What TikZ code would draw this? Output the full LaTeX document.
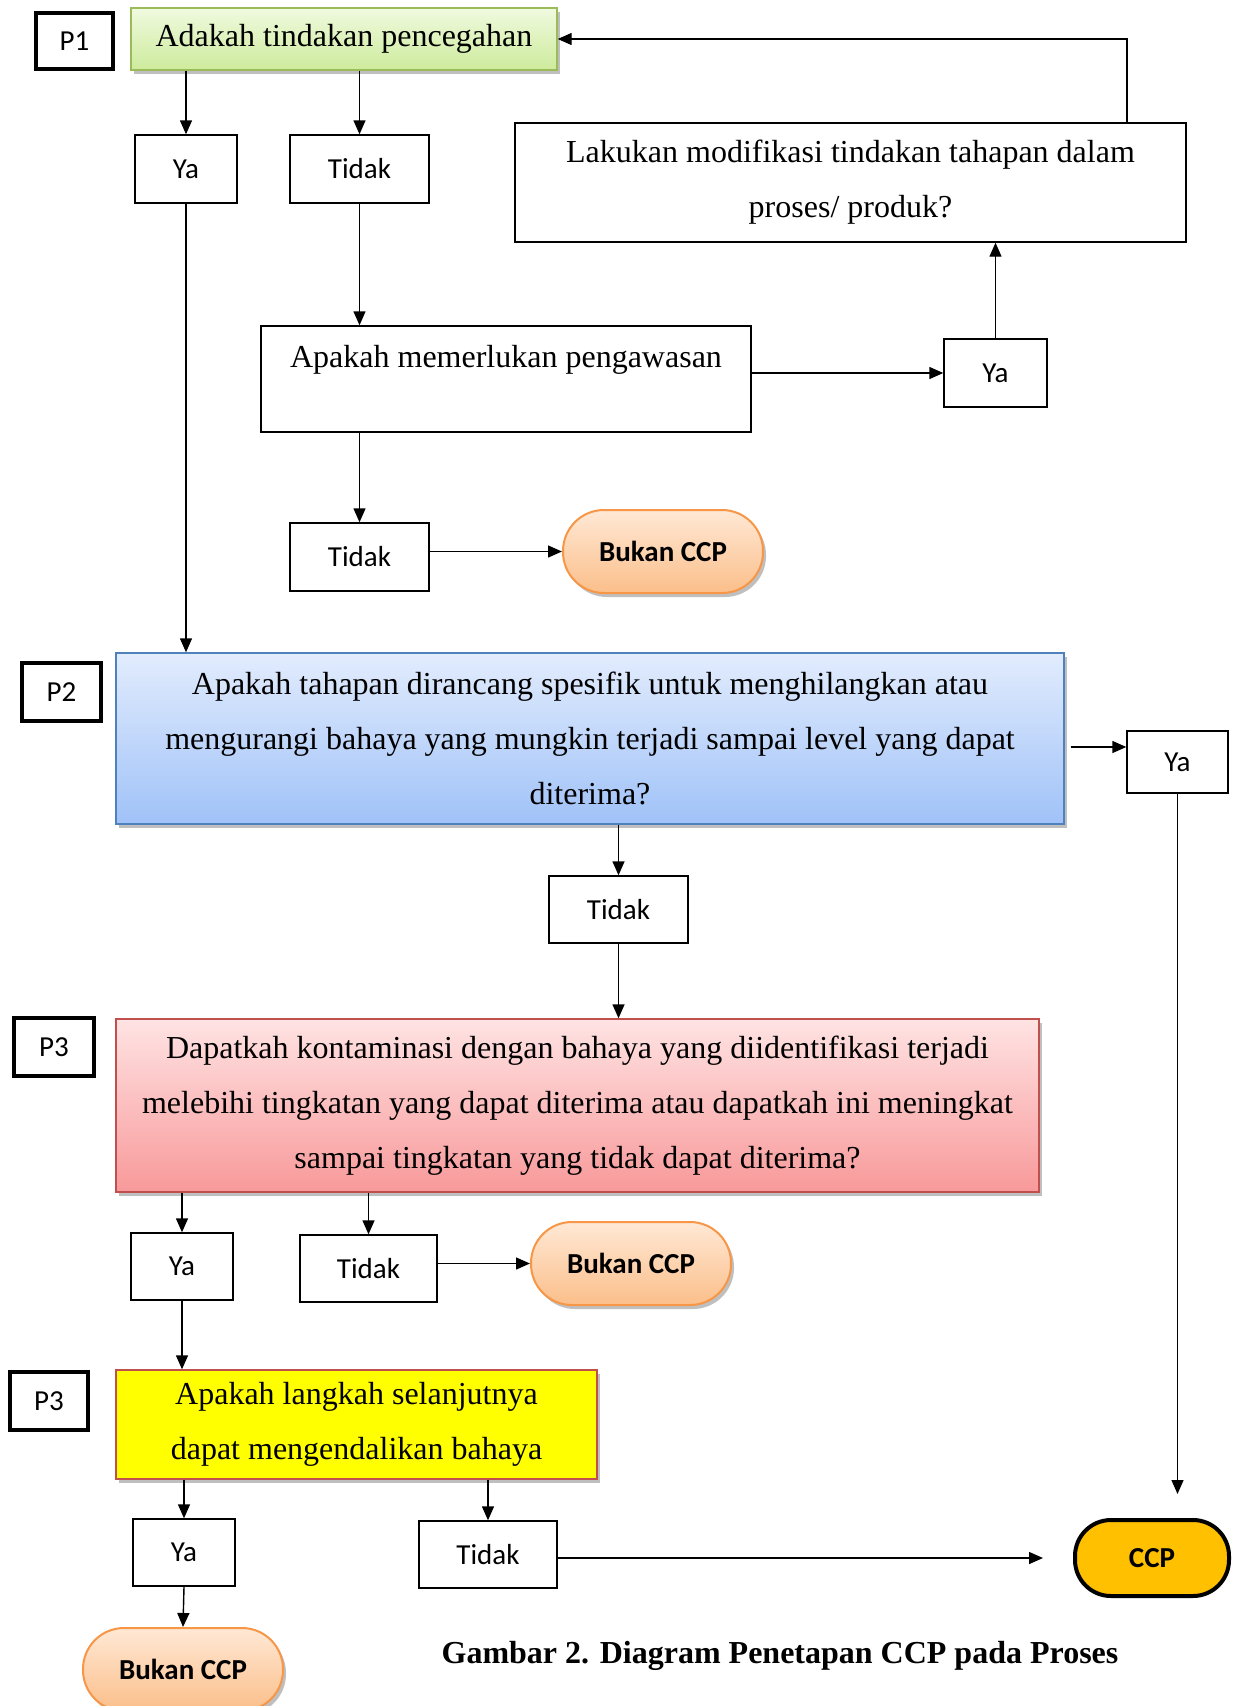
\documentclass[tikz,border=0pt]{standalone}
\usepackage{fontspec}
\setmainfont{Liberation Serif}
\setsansfont{Carlito}
\usetikzlibrary{arrows.meta,shadows,calc}
\definecolor{gborder}{HTML}{9BBB59}
\definecolor{gtop}{HTML}{F0FADF}
\definecolor{gbot}{HTML}{CDEB9C}
\definecolor{bborder}{HTML}{4F81BD}
\definecolor{btop}{HTML}{E2ECFD}
\definecolor{bbot}{HTML}{A0C2F8}
\definecolor{rborder}{HTML}{C0504D}
\definecolor{rtop}{HTML}{FFE3E3}
\definecolor{rbot}{HTML}{F8999A}
\definecolor{otop}{HTML}{FFE8D5}
\definecolor{obot}{HTML}{FBBF8A}
\definecolor{oborder}{HTML}{F79646}
\definecolor{ccpfill}{HTML}{FFC000}
\definecolor{pureyellow}{HTML}{FFFF00}
\begin{document}
\begin{tikzpicture}[x=1pt,y=-1pt,
  line width=1.4pt,
  arr/.style={-{Triangle[length=14pt,width=12pt]}},
  sertext/.style={font=\fontsize{32}{55}\selectfont, align=center},
  sanstext/.style={font=\sffamily\fontsize{29}{31}\selectfont},
  shad/.style={drop shadow={shadow xshift=3pt,shadow yshift=-4pt,opacity=0.25,fill=black}},
  optbox/.style={draw, rectangle, sanstext, inner sep=0pt},
  pbox/.style={draw, line width=4.5pt, rectangle, sanstext, inner sep=0pt},
  qbox/.style={draw, rectangle, sertext, inner sep=0pt},
  term/.style={draw=oborder, line width=2pt, top color=otop, bottom color=obot, rounded corners=41pt, shad,
     font=\sffamily\bfseries\fontsize{29}{31}\selectfont, inner sep=0pt, minimum width=200pt, minimum height=83pt}
]
\useasboundingbox (0,0) rectangle (1237,1706);

% P1 row
\node[pbox, minimum width=77pt, minimum height=56pt] (p1) at (74.5,41) {P1};
\node[qbox, draw=gborder, top color=gtop, bottom color=gbot, shad, minimum width=426pt, minimum height=62pt] (green) at (344,39) {Adakah tindakan pencegahan};
\node[optbox, minimum width=102pt, minimum height=68pt] (ya1) at (186,169) {Ya};
\node[optbox, minimum width=139pt, minimum height=68pt] (tidak1) at (359.5,169) {Tidak};
\node[qbox, minimum width=671pt, minimum height=119pt] (lakukan) at (850.5,182.5) {Lakukan modifikasi tindakan tahapan dalam\\proses/ produk?};
\node[draw, rectangle, inner sep=0pt, minimum width=490pt, minimum height=106pt,
      label={[sertext, anchor=north, inner sep=0pt, yshift=-19pt]north:Apakah memerlukan pengawasan}] (apakah) at (506,379) {};
\node[optbox, minimum width=103pt, minimum height=68pt] (ya2) at (995.5,373) {Ya};
\node[optbox, minimum width=139pt, minimum height=68pt] (tidak2) at (359.5,557) {Tidak};
\node[term] (bukan1) at (663,551.5) {Bukan CCP};

% P2 row
\node[pbox, minimum width=79pt, minimum height=58pt] (p2) at (61.5,692) {P2};
\node[qbox, draw=bborder, top color=btop, bottom color=bbot, shad, minimum width=948pt, minimum height=171pt] (blue) at (590,738.5) {Apakah tahapan dirancang spesifik untuk menghilangkan atau\\mengurangi bahaya yang mungkin terjadi sampai level yang dapat\\diterima?};
\node[optbox, minimum width=101pt, minimum height=62pt] (ya3) at (1177.5,762) {Ya};
\node[optbox, minimum width=139pt, minimum height=67pt] (tidak3) at (618.5,909.5) {Tidak};

% P3 row
\node[pbox, minimum width=80pt, minimum height=58pt] (p3a) at (54,1047) {P3};
\node[qbox, draw=rborder, top color=rtop, bottom color=rbot, shad, minimum width=923pt, minimum height=173pt] (red) at (577.5,1105.5) {Dapatkah kontaminasi dengan bahaya yang diidentifikasi terjadi\\melebihi tingkatan yang dapat diterima atau dapatkah ini meningkat\\sampai tingkatan yang tidak dapat diterima?};
\node[optbox, minimum width=102pt, minimum height=67pt] (ya4) at (182,1266.5) {Ya};
\node[optbox, minimum width=137pt, minimum height=67pt] (tidak4) at (368.5,1268.5) {Tidak};
\node[term] (bukan2) at (631,1263.5) {Bukan CCP};

% P3 second
\node[pbox, minimum width=78pt, minimum height=58pt] (p3b) at (49,1401) {P3};
\node[qbox, draw=rborder, fill=pureyellow, shad, minimum width=481pt, minimum height=109pt] (yellowbox) at (356.5,1424.5) {Apakah langkah selanjutnya\\dapat mengendalikan bahaya};
\node[optbox, minimum width=102pt, minimum height=67pt] (ya5) at (184,1552.5) {Ya};
\node[optbox, minimum width=138pt, minimum height=67pt] (tidak5) at (488,1554.5) {Tidak};
\node[draw, line width=4pt, fill=ccpfill, rounded corners=36pt, minimum width=154pt, minimum height=76pt, inner sep=0pt,
      font=\sffamily\bfseries\fontsize{29}{31}\selectfont] (ccp) at (1152,1558) {CCP};
\node[term] (bukan3) at (183,1669.5) {Bukan CCP};

\node[font=\bfseries\fontsize{32}{36}\selectfont] (caption) at (780,1656) {Gambar 2. Diagram Penetapan CCP pada Proses};

% connectors
\draw[arr] (green.south -| ya1.north) -- (ya1.north);
\draw[arr] (green.south -| tidak1.north) -- (tidak1.north);
\draw[arr] ($(lakukan.north -| 0,0)+(1127,0)$) |- (green.east);
\draw[arr] (ya1.south) -- (blue.north -| ya1.south);
\draw[arr] (tidak1.south) -- (apakah.north -| tidak1.south);
\draw[arr] (apakah.east |- ya2.west) -- (ya2.west);
\draw[arr] (ya2.north) -- (lakukan.south -| ya2.north);
\draw[arr] (apakah.south -| tidak2.north) -- (tidak2.north);
\draw[arr] (tidak2.east |- bukan1.west) -- (bukan1.west);

\draw[arr] ($(blue.east)+(6,8.5)$) -- (ya3.west |- {$(blue.east)+(6,8.5)$});
\draw[arr] (ya3.south) -- ($(ya3.south |- ccp.north)+(0,-24)$);
\draw[arr] (blue.south -| tidak3.north) -- (tidak3.north);
\draw[arr] (tidak3.south) -- (red.north -| tidak3.south);

\draw[arr] (red.south -| ya4.north) -- (ya4.north);
\draw[arr] (red.south -| tidak4.north) -- (tidak4.north);
\draw[arr] (tidak4.east |- bukan2.west) -- (bukan2.west);
\draw[arr] (ya4.south) -- (yellowbox.north -| ya4.south);

\draw[arr] (yellowbox.south -| ya5.north) -- (ya5.north);
\draw[arr] (yellowbox.south -| tidak5.north) -- (tidak5.north);
\draw[arr] (tidak5.east |- ccp.west) -- ($(ccp.west)+(-30,0)$);
\draw[arr] (ya5.south) -- (bukan3.north);
\end{tikzpicture}
\end{document}
